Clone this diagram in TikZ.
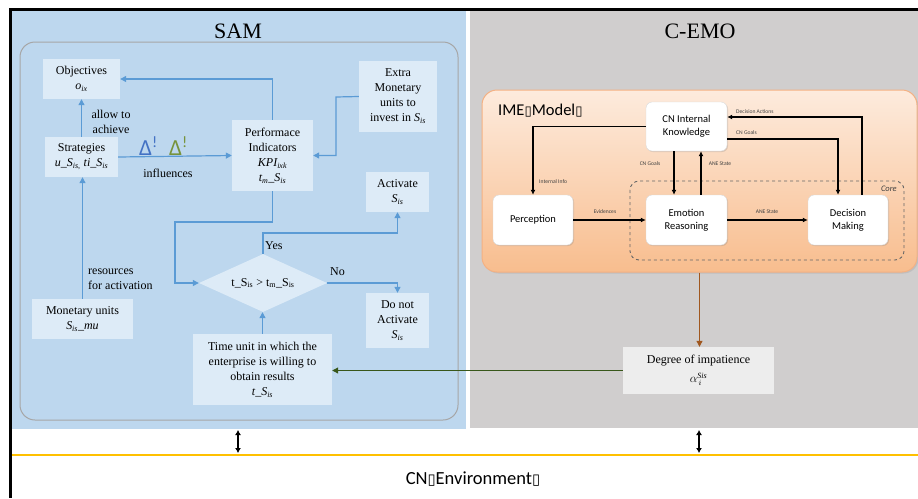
\documentclass[tikz,border=0pt]{standalone}
\usepackage{fontspec}
\setmainfont{Liberation Serif}
\newfontfamily\carl{Carlito}
\newfontfamily\dejavu{DejaVu Sans}
\usetikzlibrary{arrows.meta,shapes.geometric,shadows,calc}
\definecolor{sambg}{HTML}{BDD7EE}
\definecolor{emobg}{HTML}{D0CECE}
\definecolor{boxbg}{HTML}{DDEBF7}
\definecolor{flow}{HTML}{5B9BD5}
\definecolor{degbg}{HTML}{EDEDED}
\definecolor{imetop}{HTML}{FDEBDD}
\definecolor{imebot}{HTML}{F8BD8E}
\definecolor{imeborder}{HTML}{F4B183}
\definecolor{envline}{HTML}{FFC000}
\definecolor{dblue}{HTML}{4472C4}
\definecolor{dgreen}{HTML}{77933C}
\definecolor{impgreen}{HTML}{38571A}
\definecolor{impbrown}{HTML}{A0571F}
\definecolor{roundgrey}{HTML}{A6A6A6}
\definecolor{lbl}{HTML}{404040}
\newcommand\nobox{{\dejavu\fontsize{0.8em}{1em}\selectfont ▯}}
\tikzset{
  samtxt/.style={font=\fontsize{12}{15}\selectfont, text=black, align=center},
  sambox/.style={samtxt, fill=boxbg, inner sep=0pt},
  flowline/.style={draw=flow, line width=1.2pt, -{Triangle[length=6pt,width=6pt]}},
  emonode/.style={draw=black!15, fill=white, rounded corners=6pt, minimum width=80pt, minimum height=50pt, inner sep=0pt, align=center, font=\carl\fontsize{10.5}{13}\selectfont, drop shadow={opacity=0.25, shadow xshift=1pt, shadow yshift=-1pt}},
  emoarr/.style={draw=black, line width=1.3pt, -{Latex[length=5pt,width=5pt]}},
  emolbl/.style={font=\carl\fontsize{5.6}{6}\selectfont, text=lbl, inner sep=0pt},
  dblarr/.style={draw=black, line width=1.5pt, {Latex[length=5pt,width=6pt]}-{Latex[length=5pt,width=6pt]}},
  deltamark/.style={font=\carl\fontsize{23}{23}\selectfont, inner sep=0pt, anchor=base west},
}
\begin{document}
\begin{tikzpicture}[x=1pt,y=-1pt]
\useasboundingbox (0,0) rectangle (918,498);
\fill[white] (0,0) rectangle (918,498);
% panels
\fill[sambg] (12,11) rectangle (466,429);
\fill[emobg] (470,11) rectangle (918,428);
\draw[black, line width=2.5pt] (9,9.5) -- (918,9.5);
\draw[black, line width=3pt] (10.5,8.5) -- (10.5,498);
\draw[envline, line width=1.5pt] (12,455) -- (918,455);
% titles
\node[font=\fontsize{22}{24}\selectfont] (samtitle) at (238,31) {SAM};
\node[font=\fontsize{22}{24}\selectfont] (emotitle) at (700,31) {C-EMO};
\node[font=\carl\fontsize{18.5}{20}\selectfont] (env) at (473,479) {CN\nobox Environment\nobox};
% SAM frame
\draw[roundgrey, line width=1pt, rounded corners=15pt] (20,42) rectangle (458,420);
% SAM nodes
\node[sambox, minimum width=77pt, minimum height=40pt] (obj) at (81.5,79) {Objectives\\\textit{o\textsubscript{ix}}};
\node[sambox, minimum width=73pt, minimum height=40pt] (strat) at (81.5,157) {Strategies\\\textit{u\_S\textsubscript{is,} ti\_S\textsubscript{is}}};
\node[sambox, minimum width=81pt, minimum height=71pt] (perf) at (272.5,155.5) {Performace\\Indicators\\\textit{KPI\textsubscript{ixk}}\\\textit{t\textsubscript{m}\_S\textsubscript{is}}};
\node[sambox, minimum width=78pt, minimum height=71pt] (extra) at (398,96.5) {Extra\\Monetary\\units to\\invest in \textit{S\textsubscript{is}}};
\node[sambox, minimum width=63pt, minimum height=40pt] (act) at (397.5,192) {Activate\\\textit{S\textsubscript{is}}};
\node[sambox, shape=diamond, aspect=2.2, minimum width=128pt, minimum height=58pt] (dia) at (263,283) {t\_S\textsubscript{is} > t\textsubscript{m}\_S\textsubscript{is}};
\node[sambox, minimum width=63pt, minimum height=55pt] (dna) at (397.5,320.5) {Do not\\Activate\\\textit{S\textsubscript{is}}};
\node[sambox, minimum width=101pt, minimum height=40pt] (mon) at (82.5,319) {Monetary units\\\textit{S\textsubscript{is}\_mu}};
\node[sambox, minimum width=139pt, minimum height=71pt] (time) at (262.5,369.5) {Time unit in which the\\enterprise is willing to\\obtain results\\\textit{t\_S\textsubscript{is}}};
% SAM labels
\node[samtxt] (lallow) at (111,121.5) {allow to\\achieve};
\node[samtxt] (linfl) at (168,173) {influences};
\node[samtxt, align=left, anchor=west, inner sep=0pt] (lres) at (88,279) {resources\\for activation};
\node[samtxt, anchor=west, inner sep=0pt] (lyes) at (265,246) {Yes};
\node[samtxt, anchor=west, inner sep=0pt] (lno) at (330,272) {No};
\node[deltamark, text=dblue] (d1) at (139,155.5) {Δ\raisebox{8pt}{\fontsize{16}{16}\selectfont !}};
\node[deltamark, text=dgreen] (d2) at (169,155.5) {Δ\raisebox{8pt}{\fontsize{16}{16}\selectfont !}};
% SAM connectors
\coordinate (k1) at (175,222);
\coordinate (k2) at (263,233);
\coordinate (k3) at (336,97);
\draw[flowline] (strat.north) -- (obj.south);
\draw[flowline] (strat.east) -- (perf.west);
\draw[flowline] (perf.north) |- (obj.east);
\draw[flowline] (extra.west) -- (k3) |- (perf.east);
\draw[flowline] (perf.south) |- (k1) |- (dia.west);
\draw[flowline] (dia.north) -- (k2) -| (act.south);
\draw[flowline] (dia.east) -| (dna.north);
\draw[flowline] (time.north) -- (time.north |- dia.south);
\draw[flowline] (mon.north) -- (mon.north |- strat.south);
% C-EMO
\node[draw=imeborder, line width=1pt, rounded corners=15pt, top color=imetop, bottom color=imebot, minimum width=435pt, minimum height=182pt, inner sep=0pt, drop shadow={opacity=0.2, shadow xshift=1.5pt, shadow yshift=-1.5pt}] (ime) at (699.5,181) {};
\node[font=\carl\fontsize{16.5}{17}\selectfont, anchor=west, inner sep=0pt] (imelbl) at (498,111) {IME\nobox Model\nobox};
\draw[lbl!80, dashed, line width=0.9pt, rounded corners=9pt] (630,181) rectangle (904,260);
\node[font=\carl\itshape\fontsize{8.5}{9}\selectfont, text=lbl, anchor=east, inner sep=0pt] (corelbl) at (897,189) {Core};
\node[emonode, minimum width=81pt, minimum height=49pt] (cnik) at (686.5,126.5) {CN Internal\\Knowledge};
\node[emonode] (perc) at (533,220) {Perception};
\node[emonode, minimum width=81pt] (emre) at (686.5,220) {Emotion\\Reasoning};
\node[emonode] (dema) at (848,220) {Decision\\Making};
\draw[emoarr] (cnik.west) -| (perc.north);
\draw[emoarr] (perc.east) -- (emre.west);
\draw[emoarr] ($(cnik.south)+(-12.5,0)$) -- ($(emre.north)+(-12.5,0)$);
\draw[emoarr] ($(emre.north)+(14.5,0)$) -- ($(cnik.south)+(14.5,0)$);
\draw[emoarr] (emre.east) -- (dema.west);
\draw[emoarr] ($(cnik.east)+(0,12.5)$) -| ($(dema.north)+(-10,0)$);
\draw[emoarr] ($(dema.north)+(14,0)$) |- ($(cnik.east)+(0,-9.5)$);
\node[emolbl, anchor=west] (l1) at (539,182) {Internal Info};
\node[emolbl] (l2) at (605,212) {Evidences};
\node[emolbl] (l3) at (650,164) {CN Goals};
\node[emolbl] (l4) at (720,164) {ANE State};
\node[emolbl] (l5) at (767,212) {ANE State};
\node[emolbl, anchor=west] (l6) at (736,133) {CN Goals};
\node[emolbl, anchor=west] (l7) at (736,112) {Decision Actions};
% degree of impatience
\node[samtxt, fill=degbg, inner sep=0pt, minimum width=151pt, minimum height=47pt] (deg) at (698.5,370.5) {Degree of impatience\\[4pt]$\alpha_{\,i}^{\mathit{Sis}}$};
\draw[draw=impbrown, line width=1pt, -{Triangle[length=6pt,width=6pt]}] (ime.south) -- (ime.south |- deg.north);
\draw[draw=impgreen, line width=1pt, -{Triangle[length=6pt,width=6pt]}] (deg.west) -- (deg.west -| time.east);
% environment links
\coordinate (e1a) at (238,430);
\coordinate (e1b) at (238,453);
\coordinate (e2a) at (699,430);
\coordinate (e2b) at (699,453);
\draw[dblarr] (e1a) -- (e1b);
\draw[dblarr] (e2a) -- (e2b);
\end{tikzpicture}
\end{document}
